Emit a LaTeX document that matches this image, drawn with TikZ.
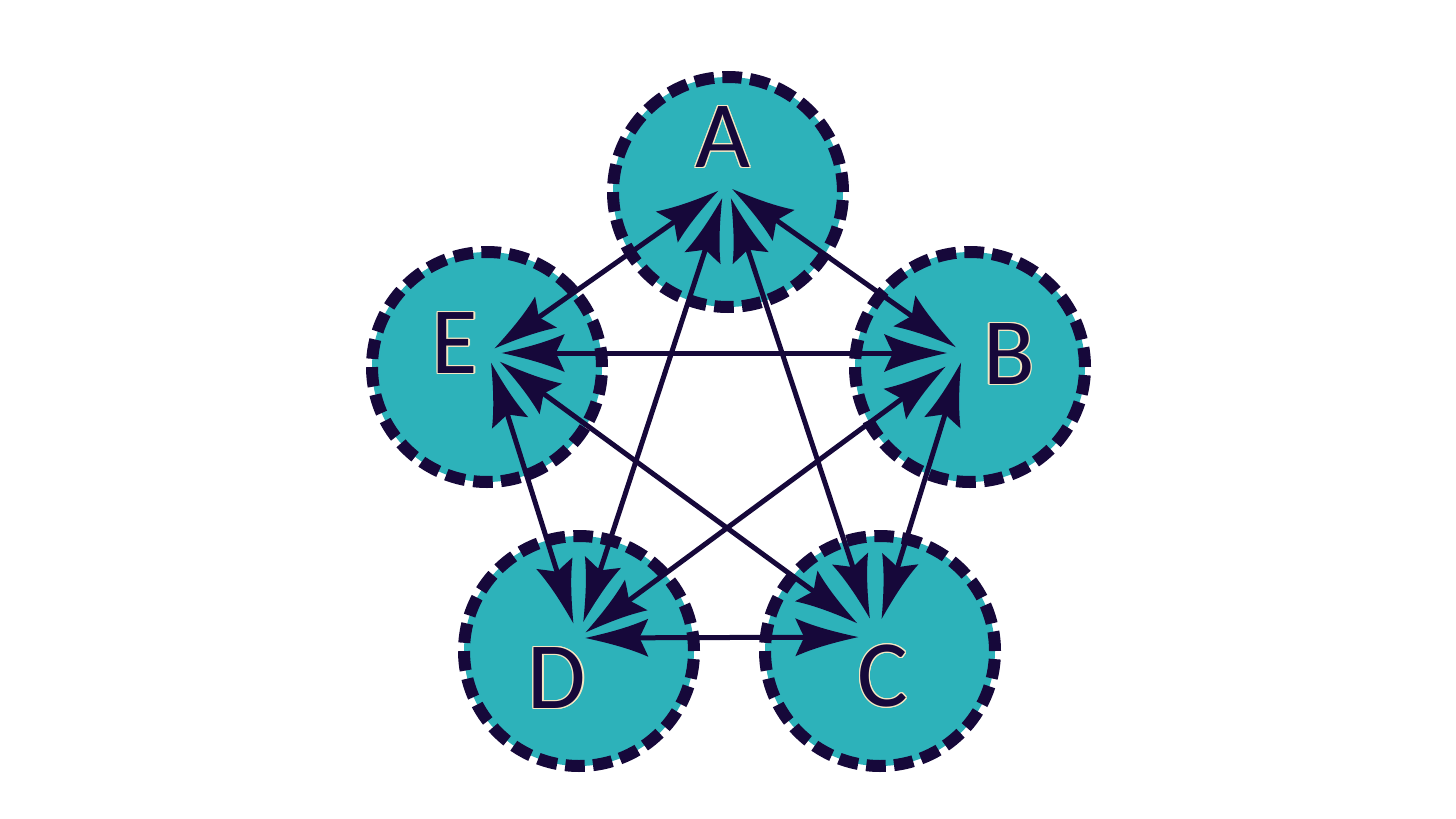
\documentclass[tikz,border=0pt]{standalone}
\usepackage{fontspec}
\setmainfont{Carlito}
\usetikzlibrary{arrows.meta}
\definecolor{navy}{HTML}{16083A}
\definecolor{tealfill}{HTML}{2DB2BA}
\definecolor{cream}{HTML}{F4E7C3}

\pgfdeclarearrow{
  name = Spike,
  setup code = {
    \pgfarrowssettipend{0pt}
    \pgfarrowssetlineend{-50pt}
    \pgfarrowssetbackend{-63pt}
    \pgfarrowshullpoint{0pt}{0pt}
    \pgfarrowshullpoint{-63pt}{19pt}
    \pgfarrowshullpoint{-63pt}{-19pt}
  },
  drawing code = {
    \pgfpathmoveto{\pgfpointorigin}
    \pgfpathcurveto{\pgfpoint{-25pt}{5.5pt}}{\pgfpoint{-45pt}{11pt}}{\pgfpoint{-63pt}{19pt}}
    \pgfpathcurveto{\pgfpoint{-59pt}{10pt}}{\pgfpoint{-56pt}{4pt}}{\pgfpoint{-54pt}{0pt}}
    \pgfpathcurveto{\pgfpoint{-56pt}{-4pt}}{\pgfpoint{-59pt}{-10pt}}{\pgfpoint{-63pt}{-19pt}}
    \pgfpathcurveto{\pgfpoint{-45pt}{-11pt}}{\pgfpoint{-25pt}{-5.5pt}}{\pgfpointorigin}
    \pgfpathclose
    \pgfusepathqfill
  }
}

\tikzset{
  vertex/.style={circle, minimum size=230pt, inner sep=0pt, fill=tealfill,
    draw=navy, line width=12pt, dash pattern=on 19.5pt off 8.3pt},
  lab/.style={font=\fontsize{95}{95}\selectfont, text=navy, inner sep=0pt},
  edge/.style={draw=navy, line width=5pt, {Spike}-{Spike}},
}

\newcommand\outlab[3]{%
  \foreach \ang in {0,30,...,330}{\node[lab,text=cream] (#1c\ang) at ([shift={(\ang:1.3)}]#2) {#3};}
  \node[lab] (#1) at (#2) {#3};}

\begin{document}
\begin{tikzpicture}[x=1pt,y=-1pt]
\useasboundingbox (0,0) rectangle (1456,819);
\fill[white] (0,0) rectangle (1456,819);

% circles
\node[vertex] (cA) at (728,192) {};
\node[vertex] (cB) at (970,367) {};
\node[vertex] (cC) at (880,651) {};
\node[vertex] (cD) at (579,651) {};
\node[vertex] (cE) at (487,367) {};

% labels
\outlab{lA}{723,137}{A}
\outlab{lB}{1009,354}{B}
\outlab{lC}{883,676}{C}
\outlab{lD}{557,678}{D}
\outlab{lE}{455,343}{E}

% edge anchor points
\coordinate (pA) at (726.5,185);
\coordinate (pB) at (964,353);
\coordinate (pC) at (876,637);
\coordinate (pD) at (578,638);
\coordinate (pE) at (488,353);

% edges
\draw[edge, shorten <=7pt,  shorten >=10pt] (pA) -- (pB);
\draw[edge, shorten <=14pt, shorten >=19.6pt] (pA) -- (pC);
\draw[edge, shorten <=14pt, shorten >=17pt] (pA) -- (pD);
\draw[edge, shorten <=10pt, shorten >=8pt] (pA) -- (pE);
\draw[edge, shorten <=10pt, shorten >=19pt] (pB) -- (pC);
\draw[edge, shorten <=23pt, shorten >=9.4pt] (pB) -- (pD);
\draw[edge, shorten <=17pt, shorten >=13.7pt] (pB) -- (pE);
\draw[edge, shorten <=17.7pt, shorten >=7.3pt] (pC) -- (pD);
\draw[edge, shorten <=23.4pt, shorten >=14.8pt] (pC) -- (pE);
\draw[edge, shorten <=15.4pt, shorten >=10.3pt] (pD) -- (pE);
\end{tikzpicture}
\end{document}
